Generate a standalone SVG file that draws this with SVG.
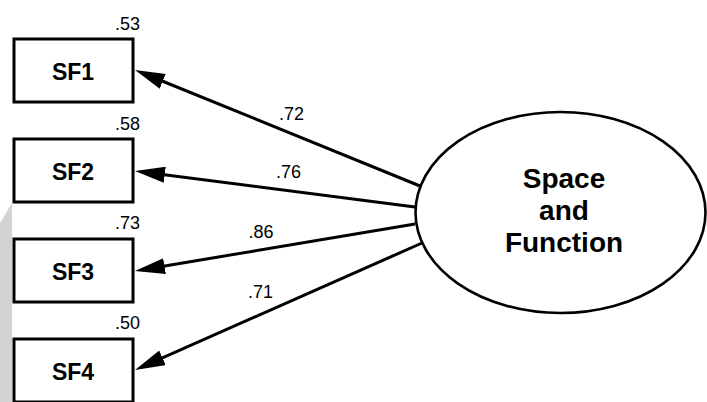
<svg xmlns="http://www.w3.org/2000/svg" width="707" height="402" viewBox="0 0 707 402">
  <defs>
    <style>
      .box { fill: #ffffff; stroke: #000000; stroke-width: 3; }
      .latent { fill: #ffffff; stroke: #000000; stroke-width: 2.6; }
      .lbl { font-family: "Liberation Sans", Arial, sans-serif; font-weight: bold; font-size: 23px; text-anchor: middle; fill: #000; }
      .big { font-family: "Liberation Sans", Arial, sans-serif; font-weight: bold; font-size: 28px; text-anchor: middle; fill: #000; }
      .num { font-family: "Liberation Sans", Arial, sans-serif; font-size: 18px; fill: #000; }
      .coef { text-anchor: middle; }
      .var { text-anchor: end; }
      .path { stroke: #000000; stroke-width: 3; fill: none; marker-end: url(#head); }
    </style>
    <marker id="head" markerUnits="userSpaceOnUse" markerWidth="30" markerHeight="16" refX="18" refY="8" orient="auto" viewBox="0 0 30 16">
      <path d="M0,0 L30,8 L0,16 Z" fill="#000000"/>
    </marker>
  </defs>

  <rect width="707" height="402" fill="#ffffff"/>
  <!-- shaded strip along the left edge -->
  <polygon points="0,223 12,203 12,402 0,402" fill="#d3d3d3"/>

  <g id="connectors">
    <line class="path" x1="420" y1="186" x2="146.1" y2="74.5"/>
    <line class="path" x1="415" y1="207" x2="146.9" y2="172.5"/>
    <line class="path" x1="415" y1="224" x2="146.8" y2="269"/>
    <line class="path" x1="422" y1="243" x2="146" y2="365.1"/>
    <text class="num coef" x="291.5" y="120">.72</text>
    <text class="num coef" x="288.5" y="178">.76</text>
    <text class="num coef" x="261" y="238">.86</text>
    <text class="num coef" x="260.5" y="298">.71</text>
  </g>

  <g id="SF1">
    <rect class="box" x="14" y="39" width="119" height="63"/>
    <text class="lbl" x="73" y="80">SF1</text>
    <text class="num var" x="140" y="30">.53</text>
  </g>
  <g id="SF2">
    <rect class="box" x="14" y="139" width="119" height="63"/>
    <text class="lbl" x="73" y="180">SF2</text>
    <text class="num var" x="140" y="130">.58</text>
  </g>
  <g id="SF3">
    <rect class="box" x="14" y="239" width="119" height="63"/>
    <text class="lbl" x="73" y="280">SF3</text>
    <text class="num var" x="140" y="229">.73</text>
  </g>
  <g id="SF4">
    <rect class="box" x="14" y="339" width="119" height="63"/>
    <text class="lbl" x="73" y="380">SF4</text>
    <text class="num var" x="140" y="329">.50</text>
  </g>

  <g id="SpaceAndFunction">
    <ellipse class="latent" cx="560.5" cy="212.5" rx="145" ry="100.5"/>
    <text class="big" x="564" y="188">Space</text>
    <text class="big" x="564" y="220">and</text>
    <text class="big" x="564" y="252">Function</text>
  </g>
</svg>
